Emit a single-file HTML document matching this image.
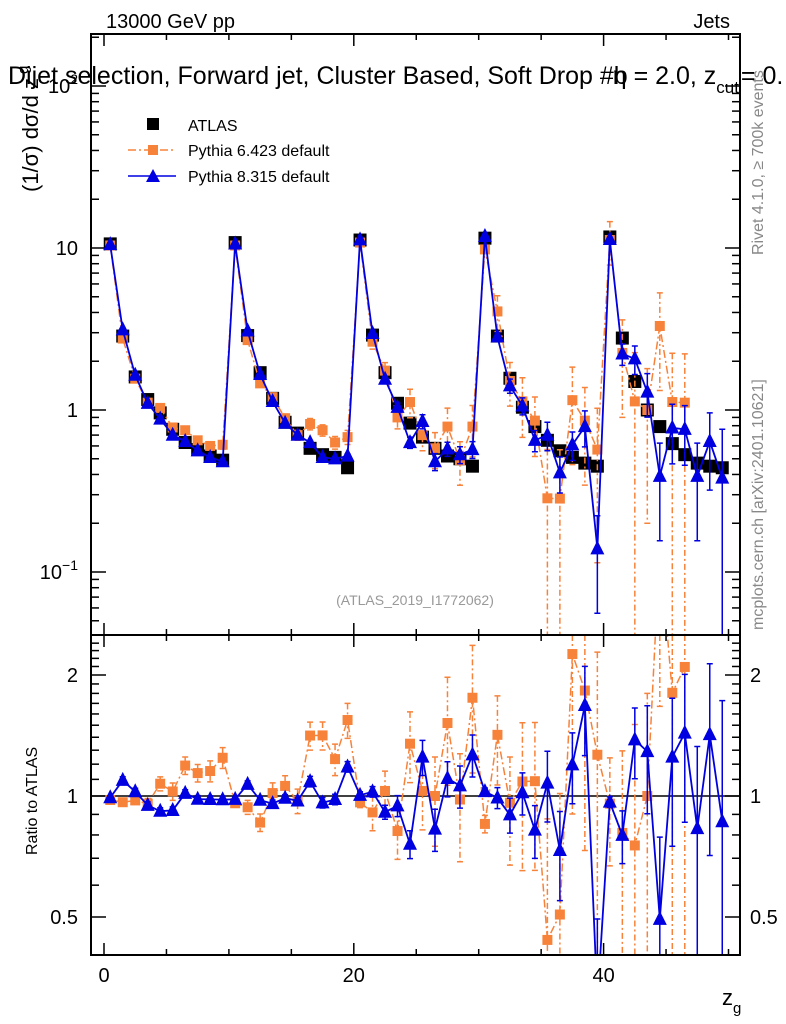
<!DOCTYPE html>
<html><head><meta charset="utf-8"><style>
html,body{margin:0;background:#fff;overflow:hidden;width:786px;height:1024px}
svg{display:block;font-family:"Liberation Sans",sans-serif}
</style></head><body>
<svg id="chart" width="786" height="1024" viewBox="0 0 786 1024" xmlns="http://www.w3.org/2000/svg" overflow="hidden">
<defs>
<clipPath id="clipTop"><rect x="91" y="34" width="649" height="601"/></clipPath>
<clipPath id="clipRat"><rect x="91" y="635" width="649" height="320"/></clipPath>
</defs>
<text x="106" y="28" font-size="20">13000 GeV pp</text>
<text x="730" y="28" font-size="20" text-anchor="end">Jets</text>
<g id="axes"></g>
<g id="topMarks" clip-path="url(#clipTop)"></g>
<g id="ratMarks" clip-path="url(#clipRat)"></g>
<rect x="91" y="34" width="649" height="601" fill="none" stroke="#000" stroke-width="2"/>
<rect x="91" y="635" width="649" height="320" fill="none" stroke="#000" stroke-width="2"/>
<text x="8" y="84" font-size="25">Dijet selection, Forward jet, Cluster Based, Soft Drop #b<tspan dx="-15">η = 2.0, z</tspan><tspan font-size="17" dy="9">cut</tspan><tspan dy="-9" dx="-5"> = 0.</tspan></text>
<text x="415" y="605" font-size="14" fill="#999" text-anchor="middle">(ATLAS_2019_I1772062)</text>
<text transform="translate(763,255) rotate(-90)" font-size="16" fill="#888">Rivet 4.1.0, ≥ 700k events</text>
<text transform="translate(763,630) rotate(-90)" font-size="16" fill="#888">mcplots.cern.ch [arXiv:2401.10621]</text>
<text transform="translate(38,192) rotate(-90)" font-size="22">(1/σ) dσ/d z<tspan font-size="15" dy="-10" dx="4">g</tspan></text>
<text transform="translate(37,855) rotate(-90)" font-size="16">Ratio to ATLAS</text>
<text x="722" y="1005" font-size="22">z<tspan font-size="15" dy="8">g</tspan></text>
<g>
<rect x="147" y="118" width="12" height="12" fill="#000"/>
<text x="188" y="131" font-size="16">ATLAS</text>
<line x1="128" y1="150" x2="176" y2="150" stroke="#f7833b" stroke-width="1.5" stroke-dasharray="8,3,2,3"/>
<rect x="148" y="145" width="10" height="10" fill="#f7833b"/>
<text x="188" y="156" font-size="16">Pythia 6.423 default</text>
<line x1="128" y1="176" x2="176" y2="176" stroke="#0000e0" stroke-width="1.5"/>
<polygon points="146,182 160,182 153,169" fill="#0000e0"/>
<text x="188" y="182" font-size="16">Pythia 8.315 default</text>
</g>
</svg>
<script>
const binCenters = Array.from({length:50},(_,i)=>i+0.5);
const atlasValues = [10.6,2.86,1.6,1.16,0.96,0.76,0.63,0.57,0.52,0.49,
 10.8,2.88,1.7,1.18,0.84,0.72,0.58,0.53,0.51,0.44,
 11.2,2.9,1.7,1.1,0.83,0.68,0.58,0.52,0.5,0.45,
 11.5,2.86,1.57,1.04,0.79,0.65,0.56,0.51,0.47,0.45,
 11.7,2.78,1.5,1.0,0.79,0.62,0.53,0.47,0.45,0.44];
const py6Values = [10.36,2.76,1.56,1.11,1.03,0.78,0.75,0.65,0.60,0.61,
 10.36,2.70,1.46,1.20,0.89,0.70,0.82,0.75,0.63,0.68,
 10.8,2.64,1.75,0.90,1.12,0.70,0.58,0.79,0.49,0.79,
 9.8,4.06,1.51,1.13,0.86,0.285,0.284,1.15,0.86,0.57,
 11.2,2.25,1.13,1.0,3.3,1.12,1.11,null,null,null];
const py6Err = [0.01,0.02,0.02,0.03,0.04,0.05,0.05,0.05,0.06,0.06,
 0.02,0.04,0.05,0.06,0.06,0.07,0.08,0.08,0.09,0.1,
 0.03,0.1,0.12,0.15,0.2,0.2,0.25,0.3,0.3,0.35,
 0.05,0.25,0.3,0.4,0.4,1.0,1.0,0.6,0.6,0.8,
 0.3,0.6,1.0,0.8,0.6,1.0,1.0,0,0,0];
const py8Values = [10.5,3.13,1.64,1.10,0.88,0.70,0.64,0.56,0.51,0.48,
 10.6,3.08,1.66,1.13,0.83,0.70,0.63,0.51,0.50,0.52,
 11.25,2.97,1.55,1.04,0.63,0.85,0.48,0.575,0.53,0.57,
 11.8,2.83,1.41,1.06,0.65,0.70,0.41,0.61,0.79,0.139,
 11.3,2.22,2.07,1.29,0.39,0.775,0.76,0.39,0.64,0.38];
const py8Err = [0.01,0.02,0.02,0.02,0.02,0.02,0.02,0.02,0.02,0.02,
 0.01,0.02,0.02,0.02,0.02,0.02,0.03,0.03,0.03,0.03,
 0.02,0.03,0.04,0.06,0.08,0.1,0.12,0.1,0.12,0.12,
 0.02,0.06,0.1,0.12,0.15,0.2,0.25,0.2,0.25,0.6,
 0.03,0.15,0.2,0.3,0.6,0.4,0.4,0.6,0.5,1.0];
const xTickLabels = [0,20,40];
const yTopTickLabels = [0.1,1,10,100];
const ratioTickLabels = [0.5,1,2];

const NS="http://www.w3.org/2000/svg";
function xS(v){return 104+12.49*v;}
function yT(v){return 410-162*Math.log10(v);}
function yR(r){return 796-121*Math.log2(r);}
function mk(tag,attrs,parent){const e=document.createElementNS(NS,tag);for(const k in attrs)e.setAttribute(k,attrs[k]);parent.appendChild(e);return e;}
const axes=document.getElementById('axes');
const topG=document.getElementById('topMarks');
const ratG=document.getElementById('ratMarks');

for(let v=0;v<=50;v+=5){
  const x=xS(v), maj=(v%20===0);
  const L=maj?12:6;
  [[34,1],[635,-1],[635,1],[955,-1]].forEach(([y,d])=>{
    const t=mk('line',{x1:x,x2:x,y1:y,y2:y+d*L,stroke:'#000','stroke-width':1.5},axes);
    
    
  });
}
xTickLabels.forEach(v=>{
  const t=mk('text',{x:xS(v),y:982,'font-size':20,'text-anchor':'middle'},axes);
  t.textContent=v;
  
  
});
for(let d=-2;d<=2;d++){
  for(let m=1;m<10;m++){
    const v=m*Math.pow(10,d), y=yT(v);
    if(y<34||y>635)continue;
    const L=m===1?15:8;
    [[91,1],[740,-1]].forEach(([x,s])=>{
      const t=mk('line',{x1:x,x2:x+s*L,y1:y,y2:y,stroke:'#000','stroke-width':1.5},axes);
      
      
    });
  }
}
yTopTickLabels.forEach(v=>{
  const y=yT(v);
  const t=mk('text',{x:78,y:y+7,'font-size':20,'text-anchor':'end'},axes);
  const e=Math.round(Math.log10(v));
  if(e===0||e===1){t.textContent=String(v);}
  else{t.textContent='10';const s=mk('tspan',{dy:-9,'font-size':14},t);s.textContent=String(e).replace('-','−');}
  
  
});
const rticks=[0.5,0.6,0.7,0.8,0.9,1,1.1,1.2,1.3,1.4,1.5,1.6,1.7,1.8,1.9,2,2.1,2.2,2.3,2.4];
rticks.forEach(r=>{
  const y=yR(r), maj=ratioTickLabels.includes(r);
  [[91,1],[740,-1]].forEach(([x,s])=>{
    const t=mk('line',{x1:x,x2:x+s*(maj?15:8),y1:y,y2:y,stroke:'#000','stroke-width':1.5},axes);
    
    
  });
});
ratioTickLabels.forEach(r=>{
  [[78,'end'],[750,'start']].forEach(([x,a])=>{
    const t=mk('text',{x:x,y:yR(r)+7,'font-size':20,'text-anchor':a},axes);
    t.textContent=r;
    
    
  });
});
const one=mk('line',{x1:91,x2:740,y1:yR(1),y2:yR(1),stroke:'#000','stroke-width':1.5},ratG);



function drawSeries(g,vals,errs,yf,color,dash,shape,name,size,lw,yMin,yMax){
  const cl=y=>Math.max(yMin,Math.min(yMax,y));
  let d='',pen=false;
  vals.forEach((v,i)=>{
    if(v==null||v<=0){pen=false;return;}
    d+=(pen?'L':'M')+xS(binCenters[i]).toFixed(1)+','+yf(v).toFixed(1);pen=true;
  });
  const p=mk('path',{d:d,fill:'none',stroke:color,'stroke-width':lw},g);
  if(dash)p.setAttribute('stroke-dasharray',dash);
  
  
  vals.forEach((v,i)=>{
    if(v==null||v<=0)return;
    const x=xS(binCenters[i]), y=yf(v);
    const e=errs?errs[i]:0;
    if(e>0){
      const hi=cl(yf(v*(1+e))), lo=(1-e)>0.001?cl(yf(v*(1-e))):yMax;
      const eb=mk('path',{d:`M${x},${hi}L${x},${lo}M${x-3},${hi}L${x+3},${hi}M${x-3},${lo}L${x+3},${lo}`,stroke:color,'stroke-width':1.5,fill:'none'},g);
      if(dash)eb.setAttribute('stroke-dasharray','6,3,2,3');
      
      
    }
    let m;
    if(shape==='tri'){m=mk('polygon',{points:`${x-size/2},${y+size*0.4} ${x+size/2},${y+size*0.4} ${x},${y-size*0.6}`,fill:color},g);}
    else{m=mk('rect',{x:x-size/2,y:y-size/2,width:size,height:size,fill:color},g);}
    
    
  });
}
drawSeries(topG,atlasValues,null,yT,'#000',null,'sq','atlas',13,0,34,635);
drawSeries(topG,py6Values,py6Err,yT,'#f7833b','8,3,2,3','sq','pythia6',10,1.5,34,635);
drawSeries(topG,py8Values,py8Err,yT,'#0000e0',null,'tri','pythia8',14,1.8,34,635);
const py6Ratio=py6Values.map((v,i)=>v==null?null:v/atlasValues[i]);
const py8Ratio=py8Values.map((v,i)=>v==null?null:v/atlasValues[i]);
drawSeries(ratG,py6Ratio,py6Err,yR,'#f7833b','8,3,2,3','sq','pythia6-ratio',10,1.5,635,955);
drawSeries(ratG,py8Ratio,py8Err,yR,'#0000e0',null,'tri','pythia8-ratio',14,1.8,635,955);
</script>
</body></html>
